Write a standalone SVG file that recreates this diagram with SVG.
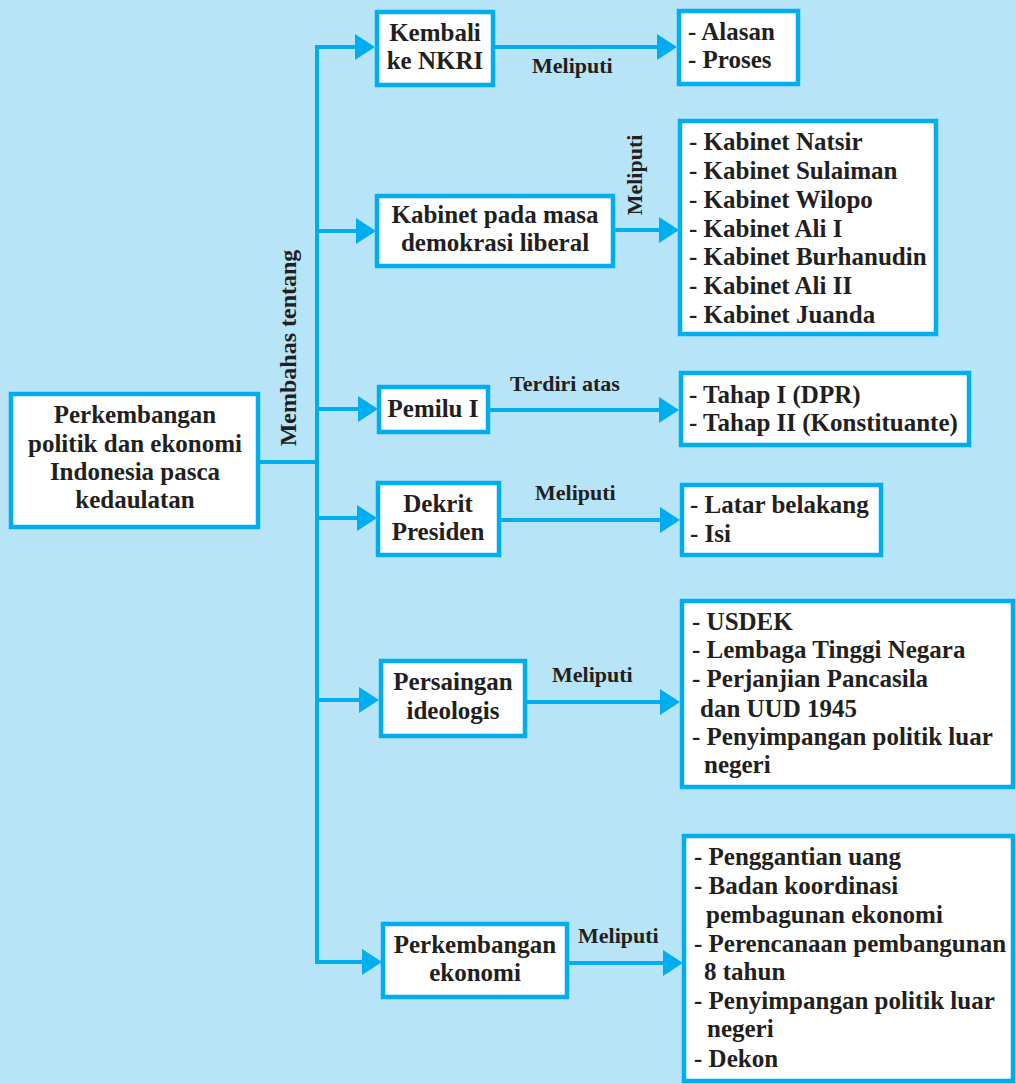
<svg xmlns="http://www.w3.org/2000/svg" width="1016" height="1084" viewBox="0 0 1016 1084">
<style>
.bg{fill:#b8e4f8}
.box{fill:#ffffff;stroke:#00aeef;stroke-width:4.5}
.ln{fill:none;stroke:#00aeef;stroke-width:4}
text{font-family:"Liberation Serif","Times New Roman",serif;font-weight:bold;fill:#231f20}
.t{font-size:25px;text-anchor:middle}
.l{font-size:25px}
.lab{font-size:22px}
.vlab{font-size:24px;text-anchor:middle}
</style>
<defs>
<marker id="ah" markerUnits="userSpaceOnUse" markerWidth="20" markerHeight="26" viewBox="0 0 20 26" refX="12" refY="13" orient="auto">
<path d="M0,0 L20,13 L0,26 z" fill="#00aeef"/>
</marker>
</defs>
<rect class="bg" x="0" y="0" width="1016" height="1084"/>

<g id="connectors">
<path class="ln" d="M258,462 H317"/>
<path class="ln" d="M317,45 V964"/>
<path class="ln" d="M315,47 H367" marker-end="url(#ah)"/>
<path class="ln" d="M315,231 H368" marker-end="url(#ah)"/>
<path class="ln" d="M315,409 H370" marker-end="url(#ah)"/>
<path class="ln" d="M315,518 H369" marker-end="url(#ah)"/>
<path class="ln" d="M315,700 H371" marker-end="url(#ah)"/>
<path class="ln" d="M315,962 H374" marker-end="url(#ah)"/>
<path class="ln" d="M493,47 H669" marker-end="url(#ah)"/>
<path class="ln" d="M613,230 H671" marker-end="url(#ah)"/>
<path class="ln" d="M488,410 H671" marker-end="url(#ah)"/>
<path class="ln" d="M499,520 H672" marker-end="url(#ah)"/>
<path class="ln" d="M525,702 H672" marker-end="url(#ah)"/>
<path class="ln" d="M567,963 H675" marker-end="url(#ah)"/>
<text class="vlab" transform="translate(296,348) rotate(-90)">Membahas tentang</text>
<text class="lab" x="532" y="73">Meliputi</text>
<text class="lab" transform="translate(642,175) rotate(-90)" text-anchor="middle">Meliputi</text>
<text class="lab" x="510" y="391">Terdiri atas</text>
<text class="lab" x="535" y="500">Meliputi</text>
<text class="lab" x="552" y="682">Meliputi</text>
<text class="lab" x="578" y="943">Meliputi</text>
</g>

<g id="node-main">
<rect class="box" x="11" y="394" width="247" height="133"/>
<text class="t" x="135" y="423">Perkembangan</text>
<text class="t" x="135" y="452">politik dan ekonomi</text>
<text class="t" x="135" y="480">Indonesia pasca</text>
<text class="t" x="135" y="508">kedaulatan</text>
</g>

<g id="node-kembali">
<rect class="box" x="377" y="12" width="116" height="73"/>
<text class="t" x="435" y="41">Kembali</text>
<text class="t" x="435" y="69">ke NKRI</text>
</g>

<g id="node-kabinet">
<rect class="box" x="377" y="196" width="236" height="70"/>
<text class="t" x="495" y="223">Kabinet pada masa</text>
<text class="t" x="495" y="251">demokrasi liberal</text>
</g>

<g id="node-pemilu">
<rect class="box" x="379" y="387" width="109" height="45"/>
<text class="t" x="433" y="417">Pemilu I</text>
</g>

<g id="node-dekrit">
<rect class="box" x="378" y="483" width="121" height="72"/>
<text class="t" x="438" y="512">Dekrit</text>
<text class="t" x="438" y="540">Presiden</text>
</g>

<g id="node-persaingan">
<rect class="box" x="381" y="661" width="144" height="75"/>
<text class="t" x="453" y="690">Persaingan</text>
<text class="t" x="453" y="719">ideologis</text>
</g>

<g id="node-ekonomi">
<rect class="box" x="383" y="924" width="184" height="73"/>
<text class="t" x="475" y="953">Perkembangan</text>
<text class="t" x="475" y="981">ekonomi</text>
</g>

<g id="node-alasan">
<rect class="box" x="679" y="11" width="119" height="73"/>
<text class="l" x="688" y="40">- Alasan</text>
<text class="l" x="688" y="68">- Proses</text>
</g>

<g id="node-kabinet-list">
<rect class="box" x="680" y="121" width="256" height="213"/>
<text class="l" x="689" y="150">- Kabinet Natsir</text>
<text class="l" x="689" y="179">- Kabinet Sulaiman</text>
<text class="l" x="689" y="208">- Kabinet Wilopo</text>
<text class="l" x="689" y="237">- Kabinet Ali I</text>
<text class="l" x="689" y="265">- Kabinet Burhanudin</text>
<text class="l" x="689" y="294">- Kabinet Ali II</text>
<text class="l" x="689" y="323">- Kabinet Juanda</text>
</g>

<g id="node-tahap">
<rect class="box" x="681" y="373" width="288" height="72"/>
<text class="l" x="689" y="403">- Tahap I (DPR)</text>
<text class="l" x="689" y="431">- Tahap II (Konstituante)</text>
</g>

<g id="node-latar">
<rect class="box" x="682" y="485" width="199" height="70"/>
<text class="l" x="690" y="513">- Latar belakang</text>
<text class="l" x="690" y="542">- Isi</text>
</g>

<g id="node-persaingan-list">
<rect class="box" x="682" y="601" width="331" height="186"/>
<text class="l" x="692" y="630">- USDEK</text>
<text class="l" x="692" y="658">- Lembaga Tinggi Negara</text>
<text class="l" x="692" y="687">- Perjanjian  Pancasila</text>
<text class="l" x="700" y="717">dan UUD 1945</text>
<text class="l" x="692" y="745">- Penyimpangan politik luar</text>
<text class="l" x="704" y="773">negeri</text>
</g>

<g id="node-ekonomi-list">
<rect class="box" x="684" y="836" width="329" height="245"/>
<text class="l" x="694" y="865">- Penggantian uang</text>
<text class="l" x="694" y="894">- Badan koordinasi</text>
<text class="l" x="706" y="923">pembagunan ekonomi</text>
<text class="l" x="694" y="952">- Perencanaan pembangunan</text>
<text class="l" x="704" y="980">8 tahun</text>
<text class="l" x="694" y="1009">- Penyimpangan politik luar</text>
<text class="l" x="707" y="1037">negeri</text>
<text class="l" x="694" y="1067">- Dekon</text>
</g>
</svg>
